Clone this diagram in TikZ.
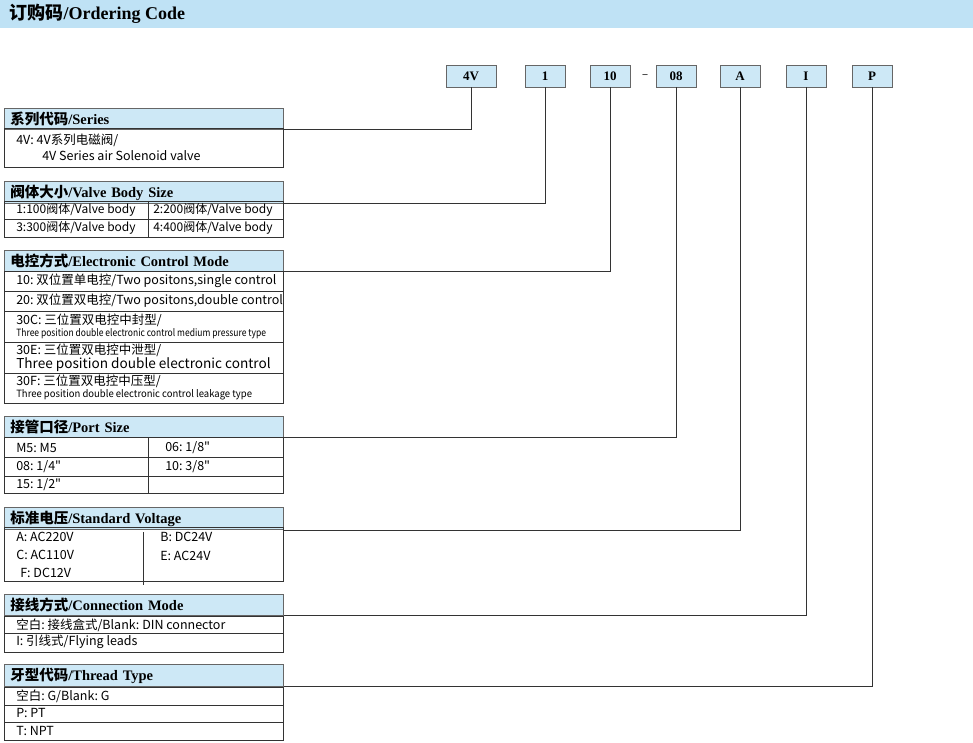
\documentclass[tikz,border=0pt]{standalone}
\usepackage{fontspec}
\setmainfont{Liberation Serif}
\newfontfamily\cjk{Noto Sans CJK SC}
\newfontfamily\cjkb{Noto Sans CJK SC Bold}
\definecolor{hdrblue}{HTML}{CDE8F6}
\definecolor{barblue}{HTML}{BFE2F5}
\begin{document}
\begin{tikzpicture}[x=1pt,y=-1pt,line width=0.6pt]
    \tikzstyle{hdr}=[anchor=north west,fill=hdrblue,draw=black!60,minimum height=20pt,
        inner xsep=6pt,text width=267pt,align=left,font=\fontsize{14.5}{14.5}\selectfont\bfseries]
    \tikzstyle{code}=[fill=hdrblue,draw=black!60,minimum width=40pt,minimum height=22pt,
        font=\fontsize{13}{13}\selectfont\bfseries]
    \tikzstyle{row}=[draw=black!80,line width=0.7pt]
    \tikzstyle{txt}=[anchor=west,inner sep=0pt,font=\cjk\fontsize{12.5}{12.5}\selectfont]
    \tikzstyle{tiny}=[anchor=west,inner sep=0pt,font=\cjk\fontsize{10}{10}\selectfont]
    \tikzstyle{link}=[draw=black!80,line width=0.7pt]
    \useasboundingbox (0,0) rectangle (973,743);

    % Title bar
    \fill[barblue] (0,0) rectangle (973,28);
    \node[anchor=west,font=\fontsize{18}{18}\selectfont\bfseries] (title) at (6,14)
        {{\cjkb 订购码}/Ordering Code};

    % Code boxes
    \node[code,minimum width=50pt] (c-4V) at (471,76) {4V};
    \node[code] (c-1) at (545,76) {1};
    \node[code] (c-10) at (610,76) {10};
    \node[font=\bfseries] (dash) at (645,76) {--};
    \node[code] (c-08) at (676,76) {08};
    \node[code] (c-A) at (740,76) {A};
    \node[code] (c-I) at (806,76) {I};
    \node[code] (c-P) at (872,76) {P};

    % Series
    \node[hdr] (h-ser) at (4,108) {{\cjkb 系列代码}/Series};
    \draw[row] (4,128) rectangle (283,167);
    \node[txt] (t-ser1) at (16,140) {4V: 4V系列电磁阀/};
    \node[txt] (t-ser2) at (42,156) {4V Series air Solenoid valve};

    % Valve body size
    \node[hdr] (h-body) at (4,181) {{\cjkb 阀体大小}/Valve Body Size};
    \draw[row] (4,201) rectangle (283,237) (4,219) -- (283,219) (148,201) -- (148,237);
    \node[txt,font=\cjk\fontsize{12}{12}\selectfont] (t-b1) at (16,210) {1:100阀体/Valve body};
    \node[txt,font=\cjk\fontsize{12}{12}\selectfont] (t-b2) at (153,210) {2:200阀体/Valve body};
    \node[txt,font=\cjk\fontsize{12}{12}\selectfont] (t-b3) at (16,228) {3:300阀体/Valve body};
    \node[txt,font=\cjk\fontsize{12}{12}\selectfont] (t-b4) at (153,228) {4:400阀体/Valve body};

    % Electronic control mode
    \node[hdr] (h-ctl) at (4,250) {{\cjkb 电控方式}/Electronic Control Mode};
    \draw[row] (4,271) rectangle (283,403);
    \foreach \y in {291,311,342,373}
        \draw[row] (4,\y) -- (283,\y);
    \node[txt] (t-e1) at (16,281) {10:\ 双位置单电控/Two positons,single control};
    \node[txt] (t-e2) at (16,301) {20:\ 双位置双电控/Two positons,double control};
    \node[txt] (t-e3) at (16,320) {30C:\ 三位置双电控中封型/};
    \node[tiny] (t-e3b) at (16,334) {\scalebox{0.85}[1]{Three position double electronic control medium pressure type}};
    \node[txt] (t-e4) at (16,350) {30E:\ 三位置双电控中泄型/};
    \node[txt,font=\cjk\fontsize{13.6}{13.6}\selectfont] (t-e4b) at (16,365) {Three position double electronic control};
    \node[txt] (t-e5) at (16,381) {30F:\ 三位置双电控中压型/};
    \node[tiny] (t-e5b) at (16,395) {\scalebox{0.95}[1]{Three position double electronic control leakage type}};

    % Port size
    \node[hdr] (h-port) at (4,416) {{\cjkb 接管口径}/Port Size};
    \draw[row] (4,437) rectangle (283,493) (4,457) -- (283,457) (4,476) -- (283,476) (148,437) -- (148,493);
    \node[txt] (t-p1) at (16,448) {M5:\ M5};
    \node[txt] (t-p2) at (165,448) {06:\ 1/8"};
    \node[txt] (t-p3) at (16,467) {08:\ 1/4"};
    \node[txt] (t-p4) at (165,467) {10:\ 3/8"};
    \node[txt] (t-p5) at (16,485) {15:\ 1/2"};

    % Standard voltage
    \node[hdr] (h-volt) at (4,507) {{\cjkb 标准电压}/Standard Voltage};
    \draw[row] (4,527) rectangle (283,581) (143,532) -- (143,585);
    \node[txt] (t-v1) at (16,537) {A:\ AC220V};
    \node[txt] (t-v2) at (160,537) {B:\ DC24V};
    \node[txt] (t-v3) at (16,555) {C:\ AC110V};
    \node[txt] (t-v4) at (160,556) {E:\ AC24V};
    \node[txt] (t-v5) at (20,573) {F:\ DC12V};

    % Connection mode
    \node[hdr] (h-conn) at (4,594) {{\cjkb 接线方式}/Connection Mode};
    \draw[row] (4,616) rectangle (283,652) (4,633) -- (283,633);
    \node[txt] (t-c1) at (16,625) {空白:\ 接线盒式/Blank:\ DIN connector};
    \node[txt] (t-c2) at (16,642) {I:\ 引线式/Flying leads};

    % Thread type
    \node[hdr] (h-thr) at (4,664) {{\cjkb 牙型代码}/Thread Type};
    \draw[row] (4,687) rectangle (283,740) (4,705) -- (283,705) (4,722) -- (283,722);
    \node[txt] (t-t1) at (16,696) {空白:\ G/Blank:\ G};
    \node[txt] (t-t2) at (16,713) {P:\ PT};
    \node[txt] (t-t3) at (16,731) {T:\ NPT};

    % Leader lines
    \foreach \src/\dst in {4V/ser,1/body,10/ctl,08/port,A/volt,I/conn,P/thr}
        \draw[link] (c-\src.south) |- (h-\dst.south east);
\end{tikzpicture}
\end{document}
